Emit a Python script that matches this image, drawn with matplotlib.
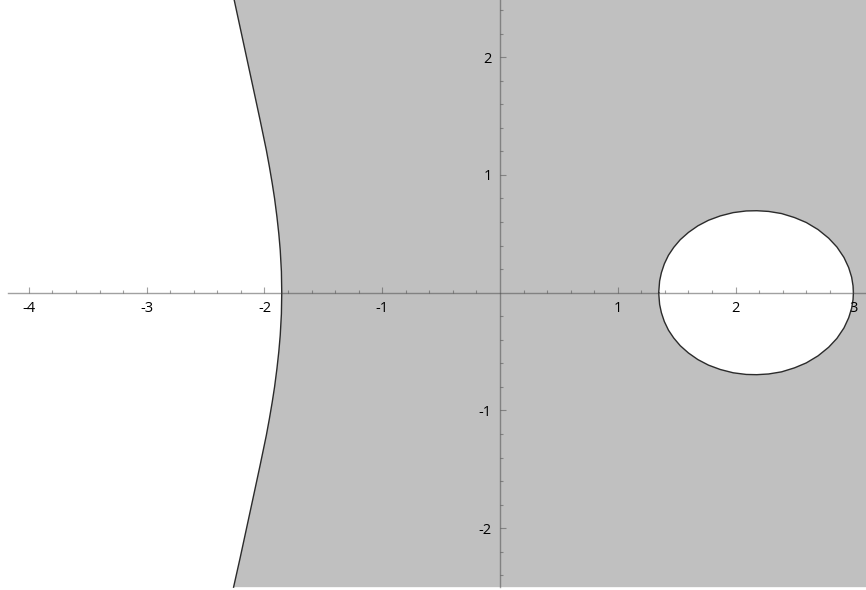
import numpy as np
import matplotlib
matplotlib.use('Agg')
import matplotlib.pyplot as plt
from matplotlib.ticker import FixedLocator

# Boundary of the shaded region (data units)
# left branch, top to bottom
branch_x = [-2.260, -2.206, -2.152, -2.098, -2.037, -1.984, -1.958, -1.934,
            -1.914, -1.894, -1.878, -1.866, -1.856, -1.853,
            -1.856, -1.866, -1.878, -1.894, -1.914, -1.934, -1.958, -1.984,
            -2.037, -2.098, -2.152, -2.206, -2.262]
branch_y = [2.50, 2.25, 2.00, 1.75, 1.466, 1.211, 1.07, 0.929,
            0.80, 0.645, 0.50, 0.362, 0.18, 0.0,
            -0.18, -0.362, -0.50, -0.645, -0.80, -0.929, -1.07, -1.211,
            -1.466, -1.75, -2.00, -2.25, -2.50]

# oval, upper half left to right, then lower half right to left
oval_x = [1.347, 1.355, 1.370, 1.395, 1.430, 1.475, 1.530, 1.600, 1.680,
          1.770, 1.870, 1.980, 2.090, 2.180, 2.280, 2.390, 2.500, 2.600,
          2.700, 2.790, 2.860, 2.920, 2.960, 2.985, 2.997, 3.000,
          2.997, 2.985, 2.960, 2.920, 2.860, 2.790, 2.700, 2.600, 2.500,
          2.390, 2.280, 2.180, 2.090, 1.980, 1.870, 1.770, 1.680, 1.600,
          1.530, 1.475, 1.430, 1.395, 1.370, 1.355, 1.347]
oval_y = [0.0, 0.100, 0.170, 0.245, 0.318, 0.385, 0.450, 0.512, 0.568,
          0.615, 0.652, 0.680, 0.694, 0.696, 0.690, 0.672, 0.638, 0.596,
          0.536, 0.463, 0.388, 0.299, 0.213, 0.132, 0.058, 0.0,
          -0.058, -0.132, -0.213, -0.299, -0.388, -0.463, -0.536, -0.596, -0.638,
          -0.672, -0.690, -0.696, -0.694, -0.680, -0.652, -0.615, -0.568, -0.512,
          -0.450, -0.385, -0.318, -0.245, -0.170, -0.100, 0.0]

x_major = [-4, -3, -2, -1, 1, 2, 3]
y_major = [-2, -1, 1, 2]

xlim = (-4.245, 3.107)
ylim = (-2.524, 2.485)
y_extent = (-2.5, 2.6)
axis_start = -4.176

fill_gray = '#c0c0c0'
edge_col = '#2b2b2b'
axis_col = (0.27, 0.27, 0.27, 0.5)

fig = plt.figure(figsize=(8.66, 5.90), dpi=100)
ax = fig.add_axes([0, 0, 1, 1])
ax.set_xlim(*xlim)
ax.set_ylim(*ylim)

# gray region: everything right of the left branch ...
poly_x = list(branch_x) + [xlim[1] + 0.2, xlim[1] + 0.2]
poly_y = list(branch_y) + [y_extent[0], y_extent[1]]
ax.fill(poly_x, poly_y, color=fill_gray, lw=0, zorder=1)
# ... except the oval
ax.fill(oval_x, oval_y, color='white', lw=0, zorder=1.1)

ax.plot(branch_x, branch_y, color=edge_col, lw=1.0, zorder=1.5,
        solid_joinstyle='round')
ax.plot(oval_x, oval_y, color=edge_col, lw=1.0, zorder=1.5,
        solid_joinstyle='round')

# axes through the origin, Mathematica style
for side in ['top', 'right']:
    ax.spines[side].set_visible(False)
ax.spines['bottom'].set_position(('data', 0))
ax.spines['left'].set_position(('data', 0))
ax.spines['bottom'].set_bounds(axis_start, xlim[1] + 0.2)
ax.spines['left'].set_bounds(y_extent[0], y_extent[1])
for side in ['bottom', 'left']:
    ax.spines[side].set_color(axis_col)
    ax.spines[side].set_linewidth(1.0)

x_minor = [v / 5 for v in range(-20, 16) if v % 5 != 0]
y_minor = [v / 5 for v in range(-12, 13) if v % 5 != 0]
ax.xaxis.set_major_locator(FixedLocator(x_major))
ax.yaxis.set_major_locator(FixedLocator(y_major))
ax.xaxis.set_minor_locator(FixedLocator(x_minor))
ax.yaxis.set_minor_locator(FixedLocator(y_minor))
ax.set_xticklabels([f'{v:d}' for v in x_major])
ax.set_yticklabels([f'{v:d}' for v in y_major])

ax.tick_params(which='both', direction='in', color=axis_col, width=0.8)
ax.tick_params(which='major', length=4.5)
ax.tick_params(which='minor', length=2.5)
ax.tick_params(axis='x', which='major', pad=6, labelsize=10.5, labelcolor='black')
ax.tick_params(axis='y', which='major', pad=6, labelsize=10.5, labelcolor='black')
for lab in ax.get_xticklabels() + ax.get_yticklabels():
    lab.set_family('Open Sans')

ax.patch.set_facecolor('white')
fig.savefig('out.png', dpi=100, facecolor='white')
